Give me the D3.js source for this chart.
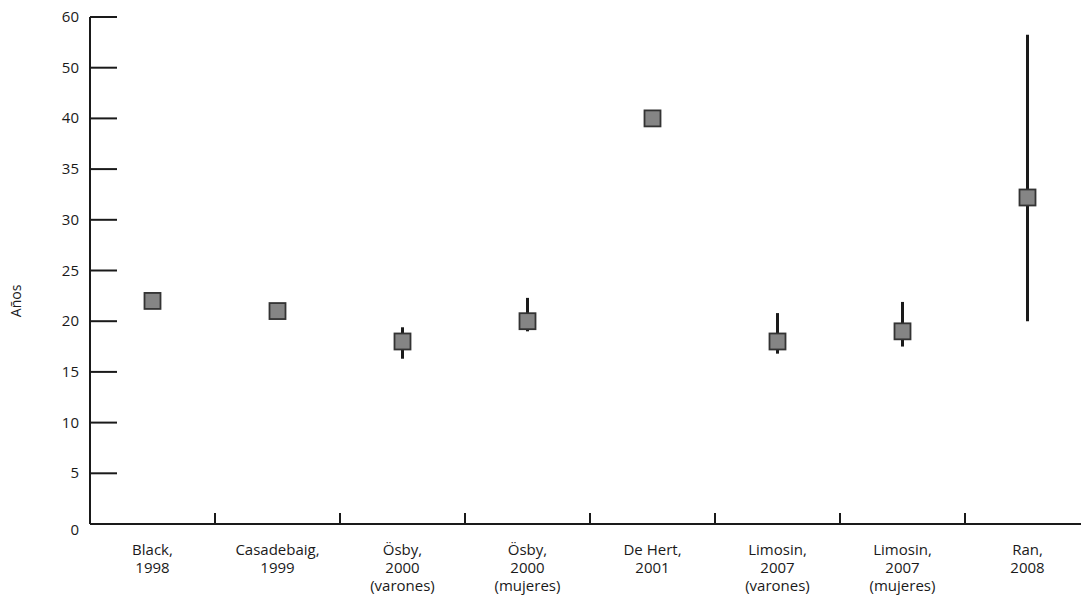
<!DOCTYPE html>
<html>
<head>
<meta charset="utf-8">
<script src="https://cdn.jsdelivr.net/npm/d3@7"></script>
<style>
  body { margin: 0; background: #fff; }
  svg { display: block; }
</style>
</head>
<body>
<div id="chart"></div>
<script>
const FONT = '"Open Sans", "DejaVu Sans", sans-serif';
const INK = '#1a1a1a';

// estudios
const studies = [
  ['Black,', '1998'],
  ['Casadebaig,', '1999'],
  ['Ösby,', '2000', '(varones)'],
  ['Ösby,', '2000', '(mujeres)'],
  ['De Hert,', '2001'],
  ['Limosin,', '2007', '(varones)'],
  ['Limosin,', '2007', '(mujeres)'],
  ['Ran,', '2008'],
];
const values = [22, 21, 18, 20, 40, 18, 19, 32.2];
const lowers = [null, null, 16.3, 19, null, 16.8, 17.5, 20];
const uppers = [null, null, 19.4, 22.3, null, 20.8, 21.9, 56.5];
const yTicks = [0, 5, 10, 15, 20, 25, 30, 35, 40, 50, 60];

const W = 1081, H = 606;
const m = { t: 17, r: -9, b: 82, l: 90 };
const svg = d3.select('#chart').append('svg').attr('width', W).attr('height', H);

const x = d3.scaleBand().domain(d3.range(studies.length)).range([m.l, W - m.r]).padding(0);
// eje no lineal: los ticks estan equiespaciados (40 -> 50 -> 60)
const y = d3.scaleLinear().domain([0, 40, 50, 60])
  .range([H - m.b, H - m.b - 8 * (H - m.b - m.t) / 10, H - m.b - 9 * (H - m.b - m.t) / 10, m.t]);

// eje y
svg.append('line').attr('x1', m.l).attr('x2', m.l).attr('y1', y(60)).attr('y2', y(0))
  .attr('stroke', INK).attr('stroke-width', 2);
svg.append('g').selectAll('line').data(yTicks.slice(1)).join('line')
  .attr('x1', m.l).attr('x2', m.l + 27).attr('y1', y).attr('y2', y)
  .attr('stroke', INK).attr('stroke-width', 2);
svg.append('g').selectAll('text').data(yTicks).join('text')
  .attr('x', 79).attr('y', (d) => y(d) + (d === 0 ? 11 : 5)).attr('text-anchor', 'end')
  .attr('font-family', FONT).attr('font-size', 15).attr('fill', INK).text((d) => d);
svg.append('text').attr('transform', `translate(21,${y(22)}) rotate(-90)`)
  .attr('text-anchor', 'middle').attr('font-family', FONT).attr('font-size', 14).attr('fill', INK)
  .text('Años');

// eje x
svg.append('line').attr('x1', m.l).attr('x2', W).attr('y1', y(0)).attr('y2', y(0))
  .attr('stroke', INK).attr('stroke-width', 2);
svg.append('g').selectAll('line').data(d3.range(1, studies.length)).join('line')
  .attr('x1', (d) => x(d)).attr('x2', (d) => x(d)).attr('y1', y(0)).attr('y2', y(0) - 11)
  .attr('stroke', INK).attr('stroke-width', 2);
const lab = svg.append('g').selectAll('text').data(studies).join('text')
  .attr('x', (d, i) => x(i) + x.bandwidth() / 2).attr('y', y(0) + 31)
  .attr('text-anchor', 'middle').attr('font-family', FONT).attr('font-size', 15).attr('fill', INK);
lab.each(function (d) {
  d3.select(this).selectAll('tspan').data(d).join('tspan')
    .attr('x', d3.select(this).attr('x')).attr('dy', (t, j) => j ? 18 : 0).text((t) => t);
});

// barras de error
const idx = d3.range(studies.length).filter((i) => lowers[i] != null);
svg.append('g').selectAll('line').data(idx).join('line')
  .attr('x1', (i) => x(i) + x.bandwidth() / 2).attr('x2', (i) => x(i) + x.bandwidth() / 2)
  .attr('y1', (i) => y(uppers[i])).attr('y2', (i) => y(lowers[i]))
  .attr('stroke', INK).attr('stroke-width', 3);

// puntos
const S = 16;
svg.append('g').selectAll('rect').data(values).join('rect')
  .attr('x', (d, i) => x(i) + x.bandwidth() / 2 - S / 2).attr('y', (d) => y(d) - S / 2)
  .attr('width', S).attr('height', S)
  .attr('fill', '#858585').attr('stroke', '#333').attr('stroke-width', 1.8);
</script>
</body>
</html>
